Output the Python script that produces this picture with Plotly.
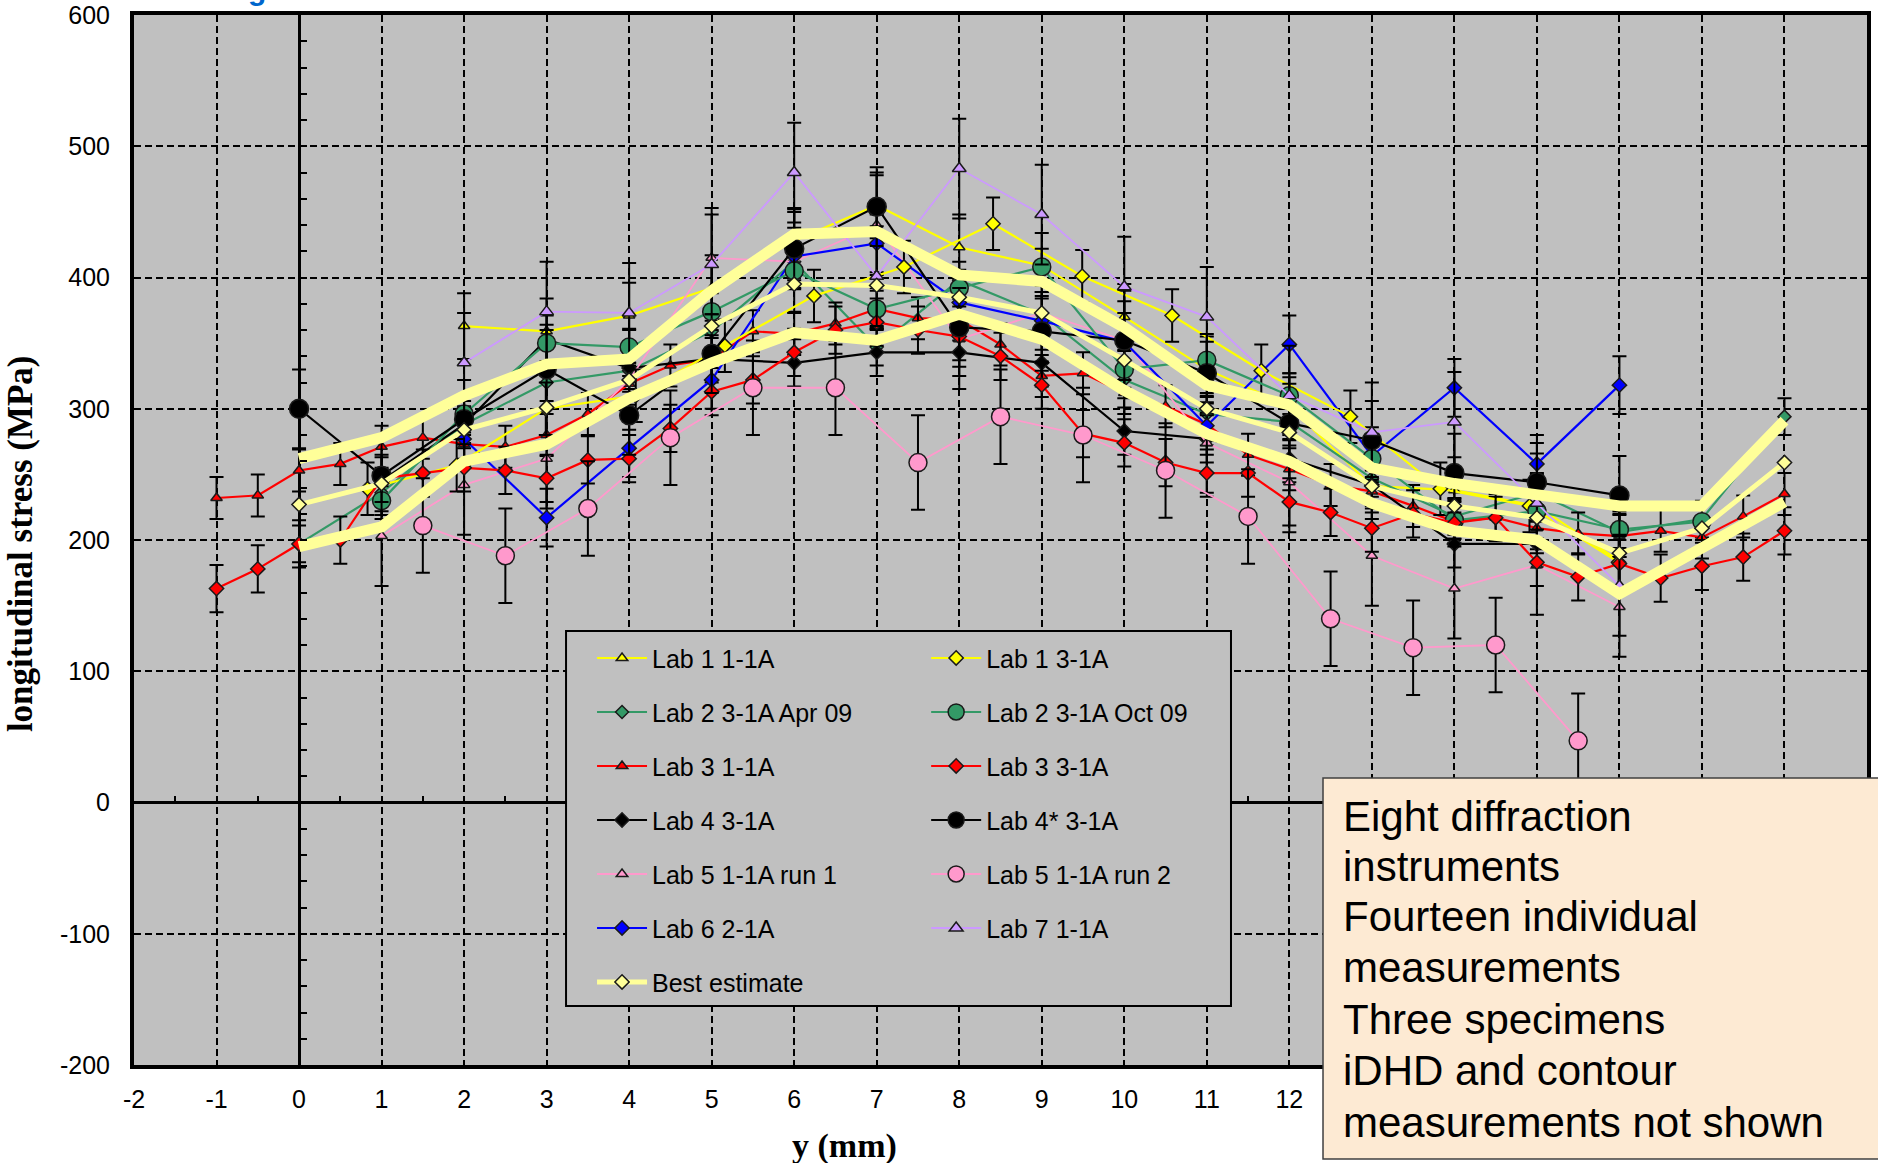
import plotly.graph_objects as go

# ---------------------------------------------------------------
# Longitudinal stress profiles, y in mm, stress in MPa
# ---------------------------------------------------------------
LAB1_11_X = [2, 3, 4, 5, 6, 7, 8, 9, 10, 11, 12, 13, 14, 15, 16]
LAB1_11_Y = [363, 359, 371, 392, 428, 455, 423, 409, 370, 330, 302, 241, 238, 226, 184]
LAB1_11_ERR = 25

LAB1_31_X = [0.83, 1.91, 2.99, 4.08, 5.16, 6.24, 7.33, 8.41, 9.49, 10.58, 11.66, 12.74, 13.83, 14.91, 15.99]
LAB1_31_Y = [239, 257, 300, 310, 348, 386, 408, 441, 401, 371, 329, 294, 239, 226, 183]
LAB1_31_ERR = 20

LAB2_APR_X = [0, 1, 2, 3, 4, 5, 6, 7, 8, 9, 10, 11, 12, 13, 14, 15, 16, 17, 18]
LAB2_APR_Y = [197, 236, 288, 320, 329, 359, 412, 347, 398, 372, 322, 296, 290, 247, 218, 236, 206, 216, 294]
LAB2_APR_ERR = 14

LAB2_OCT_X = [1, 2, 3, 4, 5, 6, 7, 8, 9, 10, 11, 12, 13, 14, 15, 16, 17]
LAB2_OCT_Y = [230, 296, 350, 347, 374, 405, 376, 392, 408, 330, 337, 310, 262, 215, 222, 208, 214]
LAB2_OCT_ERR = 14

LAB3_X = [-1, -0.5, 0, 0.5, 1, 1.5, 2, 2.5, 3, 3.5, 4, 4.5, 5, 5.5, 6, 6.5, 7, 7.5, 8, 8.5,
          9, 9.5, 10, 10.5, 11, 11.5, 12, 12.5, 13, 13.5, 14, 14.5, 15, 15.5, 16, 16.5, 17, 17.5, 18]
LAB3_11_Y = [232, 234, 253, 258, 271, 278, 273, 271, 280, 296, 319, 333, 338, 359, 357, 365, 376, 369, 368, 349,
             325, 327, 312, 302, 288, 265, 254, 242, 237, 226, 214, 217, 209, 205, 203, 207, 202, 218, 235]
LAB3_31_Y = [163, 178, 197, 200, 247, 251, 255, 253, 247, 261, 262, 285, 313, 322, 343, 360, 366, 360, 355, 340,
             318, 281, 274, 259, 251, 251, 229, 221, 209, 220, 213, 217, 183, 172, 182, 171, 180, 187, 207]
LAB3_11_ERR = 16
LAB3_31_ERR = 18

LAB4_X = [1, 2, 3, 4, 5, 6, 7, 8, 9, 10, 11, 12, 13, 14, 15]
LAB4_Y = [245, 288, 353, 331, 338, 335, 343, 343, 335, 283, 277, 262, 242, 197, 197]
LAB4_ERR = 18

LAB4S_X = [0, 1, 2, 3, 4, 5, 6, 7, 8, 9, 10, 11, 12, 13, 14, 15, 16]
LAB4S_Y = [300, 249, 292, 330, 295, 342, 422, 454, 362, 359, 352, 327, 289, 276, 251, 244, 234]
LAB4S_ERR = 30

LAB5_R1_X = [1, 2, 3, 4, 5, 6, 7, 8, 9, 10, 11, 12, 13, 14, 15, 16]
LAB5_R1_Y = [203, 242, 262, 322, 415, 412, 440, 353, 373, 352, 274, 244, 188, 163, 181, 149]
LAB5_R1_ERR = 38

LAB5_R2_X = [1.5, 2.5, 3.5, 4.5, 5.5, 6.5, 7.5, 8.5, 9.5, 10.5, 11.5, 12.5, 13.5, 14.5, 15.5]
LAB5_R2_Y = [211, 188, 224, 278, 316, 316, 259, 294, 280, 253, 218, 140, 118, 120, 47]
LAB5_R2_ERR = 36

LAB6_X = [2, 3, 4, 5, 6, 7, 8, 9, 10, 11, 12, 13, 14, 15, 16]
LAB6_Y = [277, 217, 270, 322, 416, 426, 381, 367, 351, 287, 349, 264, 316, 258, 318]
LAB6_ERR = 22

LAB7_X = [2, 3, 4, 5, 6, 7, 8, 9, 10, 11, 12, 13, 14, 15, 16]
LAB7_Y = [335, 374, 373, 410, 480, 401, 483, 448, 393, 370, 310, 282, 290, 228, 165]
LAB7_ERR = 38

BEST_X = [0, 1, 2, 3, 4, 5, 6, 7, 8, 9, 10, 11, 12, 13, 14, 15, 16, 17, 18]
BEST_Y = [227, 243, 284, 301, 322, 363, 395, 394, 385, 373, 337, 300, 282, 241, 226, 217, 190, 209, 259]
BEST_HI = [262, 278, 310, 334, 338, 390, 433, 435, 402, 397, 362, 318, 303, 255, 243, 234, 226, 226, 291]
BEST_LO = [195, 210, 260, 273, 308, 335, 358, 352, 372, 353, 314, 281, 260, 228, 207, 200, 159, 193, 229]

# x grid every mm; labels past 12 sit under the note box
X_TICKS = [-2, -1, 0, 1, 2, 3, 4, 5, 6, 7, 8, 9, 10, 11, 12, 13, 14, 15, 16, 17, 18, 19]
X_TICK_TEXT = ["-2", "-1", "0", "1", "2", "3", "4", "5", "6", "7", "8", "9", "10", "11", "12",
               "", "", "", "", "", "", ""]
Y_TICKS = [-200, -100, 0, 100, 200, 300, 400, 500, 600]

NOTE_LINES = ["Eight diffraction", "instruments", "Fourteen individual", "measurements",
              "Three specimens", "iDHD and contour", "measurements not shown"]

SANS = "Liberation Sans, Arial, sans-serif"
SERIF = "Liberation Serif, Times New Roman, serif"

YELLOW = "#FFFF00"
GREEN = "#339966"
RED = "#FF0000"
BLACK = "#000000"
PINK = "#FF99CC"
BLUE = "#0000FF"
LAVENDER = "#CC99FF"
PALE = "#FFFF99"
OUTLINE = "#1a1a1a"

fig = go.Figure()


def add_series(name, xs, ys, err, colour, symbol, size, legend, lw=2.2):
    fig.add_trace(go.Scatter(
        x=xs, y=ys, name=name, mode="lines+markers",
        line=dict(color=colour, width=lw),
        marker=dict(symbol=symbol, size=size, color=colour,
                    line=dict(color=OUTLINE, width=1.5)),
        error_y=dict(type="constant", value=err, color="black", thickness=2, width=7),
        legend=legend, legendgroup=name, hoverinfo="x+y+name",
    ))


# left legend column
add_series("Lab 1 1-1A", LAB1_11_X, LAB1_11_Y, LAB1_11_ERR, YELLOW, "triangle-up", 10, "legend")
add_series("Lab 2 3-1A Apr 09", LAB2_APR_X, LAB2_APR_Y, LAB2_APR_ERR, GREEN, "diamond", 10, "legend")
add_series("Lab 3 1-1A", LAB3_X, LAB3_11_Y, LAB3_11_ERR, RED, "triangle-up", 10, "legend")
add_series("Lab 4 3-1A", LAB4_X, LAB4_Y, LAB4_ERR, BLACK, "diamond", 11, "legend")
add_series("Lab 5 1-1A run 1", LAB5_R1_X, LAB5_R1_Y, LAB5_R1_ERR, PINK, "triangle-up", 10, "legend", lw=1.8)
add_series("Lab 6 2-1A", LAB6_X, LAB6_Y, LAB6_ERR, BLUE, "diamond", 11, "legend")

# right legend column
add_series("Lab 1 3-1A", LAB1_31_X, LAB1_31_Y, LAB1_31_ERR, YELLOW, "diamond", 11, "legend2")
add_series("Lab 2 3-1A Oct 09", LAB2_OCT_X, LAB2_OCT_Y, LAB2_OCT_ERR, GREEN, "circle", 18, "legend2")
add_series("Lab 3 3-1A", LAB3_X, LAB3_31_Y, LAB3_31_ERR, RED, "diamond", 11, "legend2")
add_series("Lab 4* 3-1A", LAB4S_X, LAB4S_Y, LAB4S_ERR, BLACK, "circle", 19, "legend2")
add_series("Lab 5 1-1A run 2", LAB5_R2_X, LAB5_R2_Y, LAB5_R2_ERR, PINK, "circle", 18, "legend2", lw=1.8)
add_series("Lab 7 1-1A", LAB7_X, LAB7_Y, LAB7_ERR, LAVENDER, "triangle-up", 12, "legend2", lw=1.8)

# best-estimate band and centre line
for band in (BEST_HI, BEST_LO):
    fig.add_trace(go.Scatter(x=BEST_X, y=band, mode="lines", showlegend=False,
                             line=dict(color=PALE, width=11), hoverinfo="skip"))
fig.add_trace(go.Scatter(
    x=BEST_X, y=BEST_Y, name="Best estimate", mode="lines+markers",
    line=dict(color=PALE, width=5),
    marker=dict(symbol="diamond", size=11, color=PALE, line=dict(color=OUTLINE, width=1.5)),
    legend="legend", legendgroup="Best estimate",
))

# carrier for the minor-tick axes drawn through the origin
fig.add_trace(go.Scatter(x=[], y=[], xaxis="x2", yaxis="y2", showlegend=False, hoverinfo="skip"))

tick_font = dict(family=SANS, size=25, color="black")
legend_common = dict(
    xanchor="left", yanchor="top", y=0.4093,
    bgcolor="rgba(0,0,0,0)", borderwidth=0,
    font=dict(family=SANS, size=25, color="black"),
    traceorder="grouped", tracegroupgap=18.5, itemwidth=50,
)

# note box text, one annotation per line
note_y = [0.2371, 0.1895, 0.1410, 0.0924, 0.0438, -0.0057, -0.0543]
note_annotations = [
    dict(text=line, xref="paper", yref="paper", x=0.6965, y=yy,
         showarrow=False, xanchor="left", yanchor="middle", align="left",
         font=dict(family=SANS, size=42, color="black"))
    for line, yy in zip(NOTE_LINES, note_y)
]

fig.update_layout(
    width=1878, height=1163,
    margin=dict(l=134, r=11, t=15, b=98, autoexpand=False),
    paper_bgcolor="white", plot_bgcolor="#C0C0C0",
    legend=dict(x=0.2643, **legend_common),
    legend2=dict(x=0.4571, **legend_common),
    xaxis=dict(
        range=[-2, 19], tickmode="array", tickvals=X_TICKS, ticktext=X_TICK_TEXT,
        showgrid=True, gridcolor="black", gridwidth=2, griddash="7px,4px",
        zeroline=True, zerolinecolor="black", zerolinewidth=2.5,
        showline=True, linecolor="black", linewidth=4, mirror=True,
        ticks="", tickfont=tick_font, ticklabelstandoff=9, automargin=False,
    ),
    yaxis=dict(
        range=[-200, 600], tickmode="array", tickvals=Y_TICKS, ticktext=[str(v) for v in Y_TICKS],
        showgrid=True, gridcolor="black", gridwidth=2, griddash="7px,4px",
        zeroline=True, zerolinecolor="black", zerolinewidth=2.5,
        showline=True, linecolor="black", linewidth=4, mirror=True,
        ticks="", tickfont=tick_font, ticklabelstandoff=15, automargin=False,
    ),
    xaxis2=dict(
        overlaying="x", anchor="free", position=0.25, range=[-2, 19],
        tickmode="linear", tick0=-2, dtick=0.5, ticks="inside", ticklen=7, tickwidth=2,
        tickcolor="black", showticklabels=False, showgrid=False, zeroline=False, showline=False,
        automargin=False,
    ),
    yaxis2=dict(
        overlaying="y", anchor="free", position=2 / 21, range=[-200, 600],
        tickmode="linear", tick0=-200, dtick=20, ticks="inside", ticklen=7, tickwidth=2,
        tickcolor="black", showticklabels=False, showgrid=False, zeroline=False, showline=False,
        automargin=False,
    ),
    shapes=[
        # legend frame
        dict(type="rect", xref="paper", yref="paper", x0=0.2493, x1=0.6330, y0=0.0562, y1=0.4133,
             fillcolor="#C0C0C0", line=dict(color="black", width=2), layer="above"),
        # note box
        dict(type="rect", xref="paper", yref="paper", x0=0.6861, x1=1.0075, y0=-0.0895, y1=0.2733,
             fillcolor="#FDEAD3", line=dict(color="#404040", width=1.5), layer="above"),
    ],
    annotations=[
        dict(text="longitudinal stress (MPa)", xref="paper", yref="paper", x=-0.0658, y=0.497,
             textangle=-90, showarrow=False, xanchor="center", yanchor="middle",
             font=dict(family=SERIF, size=35, color="black", weight="bold")),
        dict(text="y (mm)", xref="paper", yref="paper", x=0.4097, y=-0.0771,
             showarrow=False, xanchor="center", yanchor="middle",
             font=dict(family=SERIF, size=34, color="black", weight="bold")),
        dict(text="g", xref="paper", yref="paper", x=0.071, y=1.0067,
             showarrow=False, xanchor="center", yanchor="bottom",
             font=dict(family=SANS, size=30, color="#0066CC", weight="bold")),
    ] + note_annotations,
)

fig.write_html("out.html", config={"displayModeBar": False})
